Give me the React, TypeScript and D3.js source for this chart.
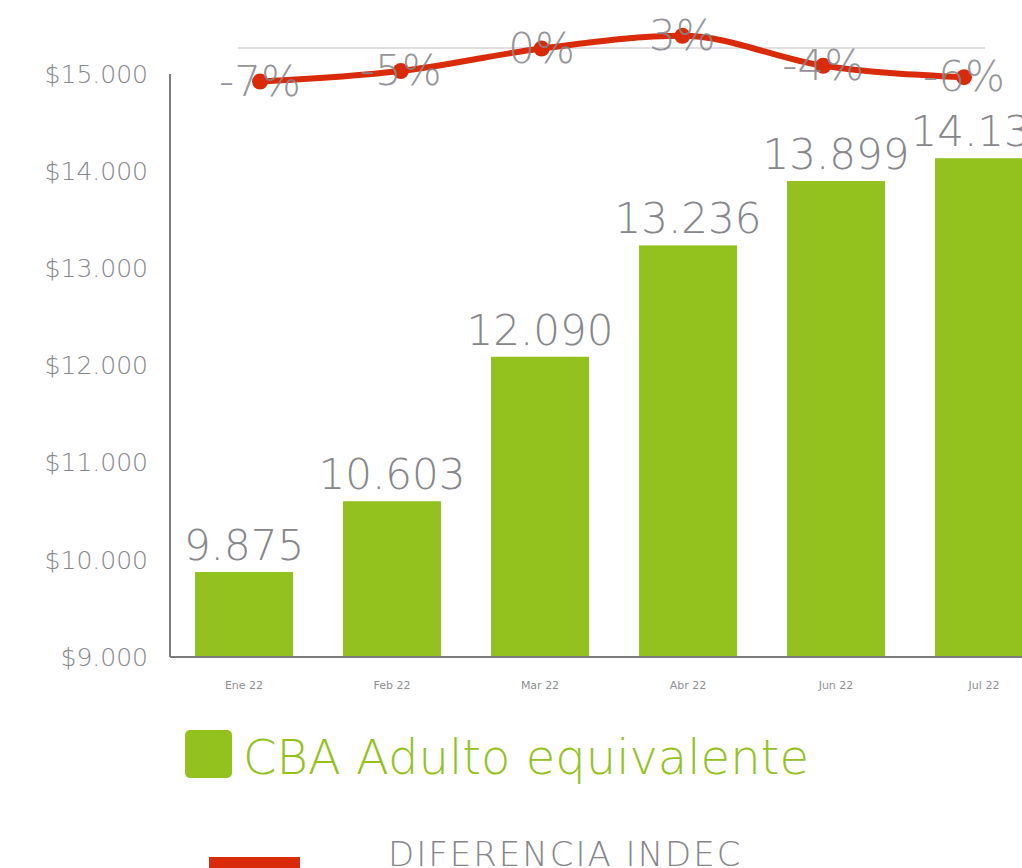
import { useEffect, useRef } from 'react';
import * as d3 from 'd3';

const WIDTH = 1022;
const HEIGHT = 868;

const months = ['Ene 22', 'Feb 22', 'Mar 22', 'Abr 22', 'Jun 22', 'Jul 22'];
const cba = [9875, 10603, 12090, 13236, 13899, 14133];
const diffIndec = [-7.4, -5, 0.1, 3, -3.8, -6.4];
const yTicks = [9000, 10000, 11000, 12000, 13000, 14000, 15000];

const GREEN = '#93c21e';
const RED = '#d92b0a';
const GRAY = '#86868b';
const FONT = "'DejaVu Sans', sans-serif";

const fmt = d3.formatLocale({ decimal: ',', thousands: '.', grouping: [3], currency: ['$', ''] });
const money = fmt.format('$,.0f');
const plain = fmt.format(',.0f');

export default function App() {
  const svgRef = useRef<SVGSVGElement>(null);

  useEffect(() => {
    const svg = d3.select(svgRef.current);
    svg.selectAll('*').remove();

    const x = d3.scaleBand<string>().domain(months).range([170, 1058]).paddingInner(0.338).paddingOuter(0.169);
    const y = d3.scaleLinear().domain([9000, 15000]).range([657, 74]);
    // line series sits on its own axis, shifted from the bars
    const xLine = d3.scalePoint<string>().domain(months).range([260, 964]);
    const y2 = d3.scaleLinear().domain([0, 10]).range([49, 5]);

    // y axis labels
    svg.append('g')
      .selectAll('text')
      .data(yTicks)
      .join('text')
      .attr('x', 148)
      .attr('y', (d) => y(d))
      .attr('dy', '0.35em')
      .attr('text-anchor', 'end')
      .attr('fill', GRAY)
      .style('font-size', '25px')
      .style('font-weight', 300)
      .text((d) => money(d));

    // bars
    svg.append('g')
      .selectAll('rect')
      .data(cba)
      .join('rect')
      .attr('x', (_, i) => x(months[i])!)
      .attr('y', (d) => y(d))
      .attr('width', x.bandwidth())
      .attr('height', (d) => 657 - y(d))
      .attr('fill', GREEN);

    // axes lines
    svg.append('line').attr('x1', 170).attr('x2', 170).attr('y1', 74).attr('y2', 657).attr('stroke', '#7d7d7d').attr('stroke-width', 2);
    svg.append('line').attr('x1', 170).attr('x2', WIDTH).attr('y1', 657).attr('y2', 657).attr('stroke', '#7d7d7d').attr('stroke-width', 2);

    // bar value labels
    svg.append('g')
      .selectAll('text')
      .data(cba)
      .join('text')
      .attr('x', (_, i) => x(months[i])! + x.bandwidth() / 2)
      .attr('y', (d) => y(d) - 12)
      .attr('text-anchor', 'middle')
      .attr('fill', GRAY)
      .style('font-size', '42px')
      .style('font-weight', 300)
      .text((d) => plain(d));

    // x labels
    svg.append('g')
      .selectAll('text')
      .data(months)
      .join('text')
      .attr('x', (d) => x(d)! + x.bandwidth() / 2)
      .attr('y', 689)
      .attr('text-anchor', 'middle')
      .attr('fill', '#8e8e92')
      .style('font-size', '11px')
      .text((d) => d);

    // secondary zero line
    svg.append('line').attr('x1', 238).attr('x2', 985).attr('y1', y2(0) - 1).attr('y2', y2(0) - 1).attr('stroke', '#d4d4d4').attr('stroke-width', 1.5);

    const line = d3.line<number>()
      .x((_, i) => xLine(months[i])!)
      .y((d) => y2(d))
      .curve(d3.curveMonotoneX);

    svg.append('path')
      .datum(diffIndec)
      .attr('d', line)
      .attr('fill', 'none')
      .attr('stroke', RED)
      .attr('stroke-width', 6);

    svg.append('g')
      .selectAll('circle')
      .data(diffIndec)
      .join('circle')
      .attr('cx', (_, i) => xLine(months[i])!)
      .attr('cy', (d) => y2(d))
      .attr('r', 8)
      .attr('fill', RED);

    svg.append('g')
      .selectAll('text')
      .data(diffIndec)
      .join('text')
      .attr('x', (_, i) => xLine(months[i])!)
      .attr('y', (d) => y2(d) + 14)
      .attr('text-anchor', 'middle')
      .attr('fill', GRAY)
      .attr('fill-opacity', 0.9)
      .style('font-size', '42px')
      .style('font-weight', 300)
      .text((d) => `${Math.round(d)}%`);

    // legend
    svg.append('rect').attr('x', 185).attr('y', 730).attr('width', 47).attr('height', 48).attr('rx', 5).attr('fill', GREEN);
    svg.append('text').attr('x', 243).attr('y', 774).attr('fill', GREEN).style('font-size', '48px').style('font-weight', 300).text('CBA Adulto equivalente');
    svg.append('rect').attr('x', 209).attr('y', 857).attr('width', 91).attr('height', 20).attr('fill', RED);
    svg.append('text').attr('x', 388).attr('y', 866).attr('fill', GRAY).style('font-size', '34px').style('font-weight', 300).style('letter-spacing', '2px').text('DIFERENCIA INDEC');
  }, []);

  return (
    <div style={{ position: 'absolute', left: 0, top: 0 }}>
      <svg
        ref={svgRef}
        width={WIDTH}
        height={HEIGHT}
        viewBox={`0 0 ${WIDTH} ${HEIGHT}`}
        style={{ display: 'block', background: '#fff', fontFamily: FONT }}
      />
    </div>
  );
}
